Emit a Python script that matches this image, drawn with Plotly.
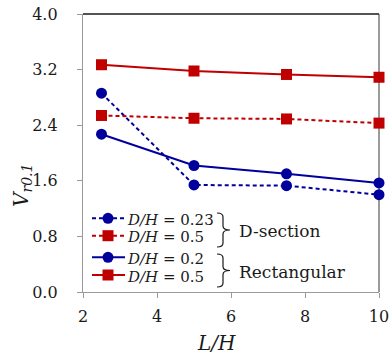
import plotly.graph_objects as go

# ---- data ----
L_H = [2.5, 5.0, 7.5, 10.0]
dsec_023 = [2.86, 1.54, 1.53, 1.40]
dsec_05 = [2.54, 2.50, 2.49, 2.43]
rect_02 = [2.27, 1.82, 1.70, 1.57]
rect_05 = [3.27, 3.18, 3.13, 3.09]
legend_labels = ["D/H = 0.23", "D/H = 0.5", "D/H = 0.2", "D/H = 0.5"]
group_labels = ["D-section", "Rectangular"]
x_ticks = [2, 4, 6, 8, 10]
y_ticks = [0.0, 0.8, 1.6, 2.4, 3.2, 4.0]

BLUE = "#00009C"
RED = "#C00000"
FONT = "DejaVu Serif"
TXT = "#1a1a1a"

# plot area in pixels
X0, X1, Y1, Y0 = 83, 379, 14, 292


def px(x):
    return (x - X0) / (X1 - X0)


def py(y):
    return (Y0 - y) / (Y0 - Y1)


fig = go.Figure()
series = [
    (dsec_023, BLUE, "circle", "4px,3px"),
    (dsec_05, RED, "square", "4px,3px"),
    (rect_02, BLUE, "circle", "solid"),
    (rect_05, RED, "square", "solid"),
]
for (vals, col, sym, dash), name in zip(series, legend_labels):
    fig.add_trace(go.Scatter(
        x=L_H, y=vals, mode="lines+markers", name=name,
        line=dict(color=col, width=2, dash=dash),
        marker=dict(color=col, symbol=sym, size=11),
        cliponaxis=False, showlegend=False,
    ))

shapes = []
annotations = []
# frame: top black, right gray
shapes.append(dict(type="line", xref="paper", yref="paper", x0=0, x1=1, y0=1, y1=1,
                   line=dict(color=TXT, width=1.3)))
shapes.append(dict(type="line", xref="paper", yref="paper", x0=1, x1=1, y0=0, y1=1,
                   line=dict(color="#7a7a7a", width=1.5), layer="below"))

# manual legend
rows = [218.3, 235.7, 257.3, 275.0]
for (vals, col, sym, dash), name, ry in zip(series, legend_labels, rows):
    shapes.append(dict(type="line", xref="paper", yref="paper",
                       x0=px(92), x1=px(125), y0=py(ry), y1=py(ry),
                       line=dict(color=col, width=2, dash=dash)))
    r = 5.5
    shapes.append(dict(type="circle" if sym == "circle" else "rect",
                       xref="paper", yref="paper",
                       x0=px(108 - r), x1=px(108 + r), y0=py(ry + r), y1=py(ry - r),
                       fillcolor=col, line=dict(color=col, width=0)))
    d, rest = name.split(" = ")
    annotations.append(dict(text=f"<i>{d}</i> = {rest}", xref="paper", yref="paper",
                            x=px(125), y=py(ry + 1.5), xanchor="left", yanchor="middle",
                            showarrow=False, font=dict(family=FONT, size=15, color=TXT)))

# braces
for (yt, yb), lab in zip([(213, 247), (254, 287)], group_labels):
    xa, xs, xt = 217, 223, 230
    ym = (yt + yb) / 2
    pts = (f"M {px(xa)},{py(yt)} Q {px(xs)},{py(yt)} {px(xs)},{py(yt + 4)} "
           f"L {px(xs)},{py(ym - 4)} Q {px(xs)},{py(ym)} {px(xt)},{py(ym)} "
           f"Q {px(xs)},{py(ym)} {px(xs)},{py(ym + 4)} "
           f"L {px(xs)},{py(yb - 4)} Q {px(xs)},{py(yb)} {px(xa)},{py(yb)}")
    shapes.append(dict(type="path", xref="paper", yref="paper", path=pts,
                       line=dict(color=TXT, width=1.2)))
    annotations.append(dict(text=lab, xref="paper", yref="paper",
                            x=px(237), y=py(ym + 1), xanchor="left", yanchor="middle",
                            showarrow=False, font=dict(family=FONT, size=17, color=TXT)))

# axis titles
annotations.append(dict(text="<i>L/H</i>", xref="paper", yref="paper",
                        x=px(216), y=py(343), xanchor="center", yanchor="middle",
                        showarrow=False, font=dict(family=FONT, size=20, color=TXT)))
annotations.append(dict(text="<i>V</i><sub><i>r0.1</i></sub>", xref="paper", yref="paper",
                        x=px(22), y=py(186), xanchor="center", yanchor="middle", textangle=-90,
                        showarrow=False, font=dict(family=FONT, size=20, color=TXT)))

fig.update_layout(
    width=391, height=356,
    margin=dict(l=X0, r=391 - X1, t=Y1, b=356 - Y0, autoexpand=False),
    paper_bgcolor="white", plot_bgcolor="white",
    showlegend=False,
    font=dict(family=FONT, size=16, color=TXT),
    shapes=shapes, annotations=annotations,
    xaxis=dict(range=[2, 10], tickvals=x_ticks, ticktext=[str(v) for v in x_ticks],
               automargin=False,
               showgrid=False, zeroline=False, showline=True, linecolor="#9a9a9a", linewidth=1.3,
               ticks="outside", ticklen=5, tickcolor="#9a9a9a", tickwidth=1.3,
               ticklabelstandoff=5, tickfont=dict(family=FONT, size=16, color=TXT)),
    yaxis=dict(range=[0, 4], tickvals=y_ticks, ticktext=[f"{v:.1f}" for v in y_ticks],
               automargin=False,
               showgrid=False, zeroline=False, showline=True, linecolor="#9a9a9a", linewidth=1.3,
               ticks="outside", ticklen=5, tickcolor="#9a9a9a", tickwidth=1.3,
               ticklabelstandoff=16, tickfont=dict(family=FONT, size=16, color=TXT)),
)

fig.write_html("out.html")
